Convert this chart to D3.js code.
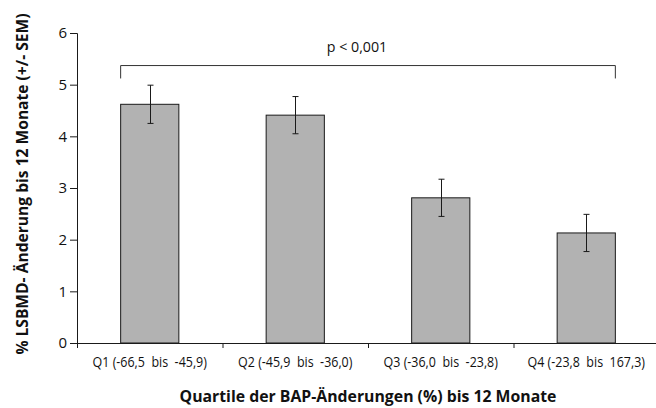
<!DOCTYPE html>
<html>
<head>
<meta charset="utf-8">
<script src="https://cdn.jsdelivr.net/npm/d3@7"></script>
<style>
  html, body { margin: 0; padding: 0; background: #fff; }
  svg { display: block; }
  text { fill: #111; }
</style>
</head>
<body>
<svg id="chart" width="656" height="408"></svg>
<script>
// Quartiles of BAP change (%) up to 12 months
const categories = [
  "Q1 (-66,5  bis  -45,9)",
  "Q2 (-45,9  bis  -36,0)",
  "Q3 (-36,0  bis  -23,8)",
  "Q4 (-23,8  bis  167,3)"
];
// Mean % LSBMD change up to 12 months
const values = [4.62, 4.41, 2.81, 2.13];
// Standard error of the mean
const sem = [0.37, 0.36, 0.36, 0.36];
const yTicks = [0, 1, 2, 3, 4, 5, 6];
const pLabel = "p < 0,001";
const bracketLevel = 5.37;
const bracketDrop = 5.12;

(function () {
const svg = d3.select("#chart");
const plotLeft = 77, plotRight = 659, plotTop = 33, plotBottom = 343;
const tickFont = "'Open Sans', 'DejaVu Sans', sans-serif";
const boldFont = "'Open Sans', 'DejaVu Sans', sans-serif";

const x = d3.scaleBand().domain(categories).range([plotLeft, plotRight]).padding(0);
const xEdges = d3.scaleLinear().domain([0, categories.length]).range([plotLeft, plotRight]);
const y = d3.scaleLinear().domain([0, 6]).range([plotBottom, plotTop]);
const barW = x.bandwidth() * 0.4;

// Bars
svg.append("g").selectAll("rect")
  .data(categories)
  .join("rect")
  .attr("x", d => x(d) + (x.bandwidth() - barW) / 2)
  .attr("y", (d, i) => y(values[i]))
  .attr("width", barW)
  .attr("height", (d, i) => y(0) - y(values[i]))
  .attr("fill", "#b2b2b2")
  .attr("stroke", "#1a1a1a")
  .attr("stroke-width", 1);

// Error bars (+/- SEM)
const eb = svg.append("g").attr("stroke", "#1a1a1a").attr("stroke-width", 1);
categories.forEach((c, i) => {
  const cx = Math.round(x(c) + x.bandwidth() / 2) + 0.5;
  const y1 = y(values[i] + sem[i]), y2 = y(values[i] - sem[i]);
  eb.append("line").attr("x1", cx).attr("x2", cx).attr("y1", y1).attr("y2", y2);
  eb.append("line").attr("x1", cx - 3).attr("x2", cx + 3).attr("y1", y1).attr("y2", y1);
  eb.append("line").attr("x1", cx - 3).attr("x2", cx + 3).attr("y1", y2).attr("y2", y2);
});

// Y axis
const yAxis = svg.append("g")
  .attr("transform", `translate(${plotLeft},0)`)
  .call(d3.axisLeft(y).tickValues(yTicks).tickFormat(d3.format("d")).tickSize(7).tickPadding(3));
yAxis.selectAll("text").style("font-family", tickFont).style("font-size", "15px").attr("fill", "#111");
yAxis.selectAll("line, path").attr("stroke", "#1a1a1a");

// X axis: boundary ticks
const xTickAxis = svg.append("g")
  .attr("transform", `translate(0,${plotBottom})`)
  .call(d3.axisBottom(xEdges).tickValues(d3.range(0, categories.length + 1)).tickFormat("").tickSize(5).tickSizeOuter(0));
xTickAxis.selectAll("line, path").attr("stroke", "#1a1a1a");

// X axis: category labels, horizontally condensed around their centre
const xLabelAxis = svg.append("g")
  .attr("transform", `translate(0,${plotBottom})`)
  .call(d3.axisBottom(x).tickSize(0).tickPadding(13.5));
xLabelAxis.select(".domain").remove();
xLabelAxis.selectAll("text")
  .style("font-family", tickFont).style("font-size", "14.5px")
  .style("white-space", "pre").attr("fill", "#111")
  .attr("transform", "scale(0.86,1)");

// Significance bracket
const bx1 = x(categories[0]) + (x.bandwidth() - barW) / 2;
const last = categories[categories.length - 1];
const bx2 = x(last) + (x.bandwidth() + barW) / 2;
svg.append("path")
  .attr("d", `M${bx1},${y(bracketDrop)}V${y(bracketLevel)}H${bx2}V${y(bracketDrop)}`)
  .attr("fill", "none").attr("stroke", "#333").attr("stroke-width", 1);
svg.append("g")
  .attr("transform", "translate(357,51.5) scale(0.95,1)")
  .append("text")
  .attr("text-anchor", "middle")
  .style("font-family", tickFont).style("font-size", "15px")
  .text(pLabel);

// Axis titles
svg.append("text")
  .attr("x", (plotLeft + plotRight) / 2).attr("y", 401.5)
  .attr("text-anchor", "middle")
  .style("font-family", boldFont).style("font-size", "15.8px").style("font-weight", "bold")
  .text("Quartile der BAP-Änderungen (%) bis 12 Monate");
svg.append("text")
  .attr("transform", "translate(28,184) rotate(-90)")
  .attr("text-anchor", "middle")
  .style("font-family", boldFont).style("font-size", "15.6px").style("font-weight", "bold")
  .text("% LSBMD- Änderung bis 12 Monate (+/- SEM)");
})();
</script>
</body>
</html>
